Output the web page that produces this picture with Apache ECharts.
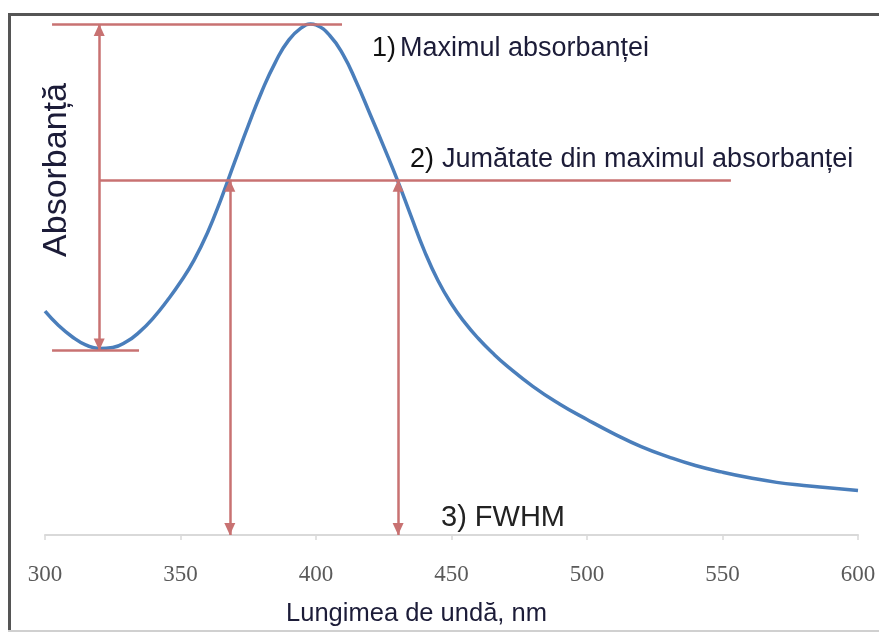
<!DOCTYPE html>
<html>
<head>
<meta charset="utf-8">
<title>Absorbanță – FWHM</title>
<script src="https://cdn.jsdelivr.net/npm/echarts@6/dist/echarts.min.js"></script>
<style>
  html, body { margin: 0; padding: 0; background: #fff; }
  #chart { width: 879px; height: 632px; }
</style>
</head>
<body>
<div id="chart"></div>
<script>
// Absorption spectrum: wavelength (nm) and relative absorbance
const wavelength = [300, 305, 310, 315, 320, 325, 330, 335, 340, 345, 350, 355, 360, 365, 370, 375, 380, 385,
  390, 395, 398, 400, 405, 410, 415, 420, 425, 430, 435, 440, 445, 450, 455, 460, 465, 470, 480, 490, 500,
  510, 520, 530, 540, 550, 560, 570, 580, 590, 600];
const absorbance = [0.438, 0.410, 0.388, 0.372, 0.365, 0.367, 0.378, 0.398, 0.425, 0.458, 0.495, 0.538, 0.592,
  0.658, 0.730, 0.801, 0.868, 0.925, 0.969, 0.994, 1.000, 0.998, 0.978, 0.940, 0.885, 0.823, 0.760, 0.695,
  0.625, 0.556, 0.498, 0.452, 0.415, 0.384, 0.357, 0.333, 0.291, 0.256, 0.226, 0.198, 0.173, 0.153, 0.136,
  0.123, 0.112, 0.103, 0.097, 0.092, 0.087];

// Axis ticks
const xTicks = [300, 350, 400, 450, 500, 550, 600];

// Reference levels and markers
const maxLevel = 1.0;
const minLevel = 0.361;
const halfLevel = 0.695;
const maxLineX = [302.6, 409.6];
const minLineX = [302.6, 334.7];
const halfLineX = [320.3, 553.1];
const amplitudeX = 320;
const fwhmX = [368.2, 430.3];

// Texts
const labelMax = ['1)', 'Maximul absorbanței'];
const labelHalf = ['2)', 'Jumătate din maximul absorbanței'];
const labelFwhm = '3) FWHM';
const xName = 'Lungimea de undă, nm';
const yName = 'Absorbanță';

const RED = '#c87272';
const BLUE = '#4a7ebb';
const TEXT = '#1c1c38';

const plain = (a, b) => [
  { coord: a, symbol: 'none' },
  { coord: b, symbol: 'none' }
];
const arrow = (a, b) => [
  { coord: a, symbol: 'triangle' },
  { coord: b, symbol: 'triangle' }
];

const chart = echarts.init(document.getElementById('chart'), null, { renderer: 'canvas' });

chart.setOption({
  animation: false,
  backgroundColor: '#fff',
  grid: { left: 45, right: 21, top: 24, bottom: 90 },
  xAxis: {
    type: 'value',
    min: xTicks[0],
    max: xTicks[xTicks.length - 1],
    interval: xTicks[1] - xTicks[0],
    name: xName,
    nameLocation: 'middle',
    nameGap: 66,
    nameTextStyle: { fontFamily: 'Liberation Sans', fontSize: 25.5, color: TEXT, padding: [0, 70, 0, 0] },
    axisLine: { lineStyle: { color: '#d9d9d9', width: 2 } },
    axisTick: { show: true, length: 5, lineStyle: { color: '#d9d9d9', width: 1.5 } },
    axisLabel: { margin: 28, fontFamily: 'Liberation Serif', fontSize: 23, color: '#5a5a5a' },
    splitLine: { show: false }
  },
  yAxis: {
    type: 'value',
    min: 0,
    max: 1,
    show: false
  },
  graphic: [
    // frame
    { type: 'line', shape: { x1: 8, y1: 14.5, x2: 879, y2: 14.5 }, style: { stroke: '#555', lineWidth: 3 }, silent: true },
    { type: 'line', shape: { x1: 9.5, y1: 13, x2: 9.5, y2: 632 }, style: { stroke: '#555', lineWidth: 3 }, silent: true },
    { type: 'line', shape: { x1: 8, y1: 631, x2: 879, y2: 631 }, style: { stroke: '#d0d0d0', lineWidth: 2 }, silent: true },
    // axis title
    {
      type: 'text', x: 57, y: 170, rotation: Math.PI / 2,
      style: { text: yName, font: '34px "Liberation Sans"', fill: TEXT, align: 'center', verticalAlign: 'middle' }
    },
    // annotations
    { type: 'text', x: 372, y: 49, style: { text: labelMax[0], font: '27px "Liberation Sans"', fill: '#111', verticalAlign: 'middle' } },
    { type: 'text', x: 400, y: 49, style: { text: labelMax[1], font: '27px "Liberation Sans"', fill: TEXT, verticalAlign: 'middle' } },
    { type: 'text', x: 410, y: 160, style: { text: labelHalf[0], font: '27px "Liberation Sans"', fill: '#111', verticalAlign: 'middle' } },
    { type: 'text', x: 442, y: 160, style: { text: labelHalf[1], font: '27px "Liberation Sans"', fill: TEXT, verticalAlign: 'middle' } },
    { type: 'text', x: 441, y: 518, style: { text: labelFwhm, font: '29px "Liberation Sans"', fill: '#222', verticalAlign: 'middle' } }
  ],
  series: [
    {
      type: 'line',
      data: wavelength.map((x, i) => [x, absorbance[i]]),
      smooth: 0.5,
      showSymbol: false,
      clip: false,
      z: 3,
      lineStyle: { color: BLUE, width: 3.5 },
      markLine: {
        silent: true,
        animation: false,
        symbolSize: [11, 12],
        symbolOffset: [[0, 6], [0, 6]],
        label: { show: false },
        lineStyle: { color: RED, width: 2.5, type: 'solid' },
        emphasis: { disabled: true },
        data: [
          plain([maxLineX[0], maxLevel], [maxLineX[1], maxLevel]),
          plain([minLineX[0], minLevel], [minLineX[1], minLevel]),
          plain([halfLineX[0], halfLevel], [halfLineX[1], halfLevel]),
          arrow([amplitudeX, minLevel], [amplitudeX, maxLevel]),
          arrow([fwhmX[0], 0], [fwhmX[0], halfLevel]),
          arrow([fwhmX[1], 0], [fwhmX[1], halfLevel])
        ]
      }
    }
  ]
});
</script>
</body>
</html>
